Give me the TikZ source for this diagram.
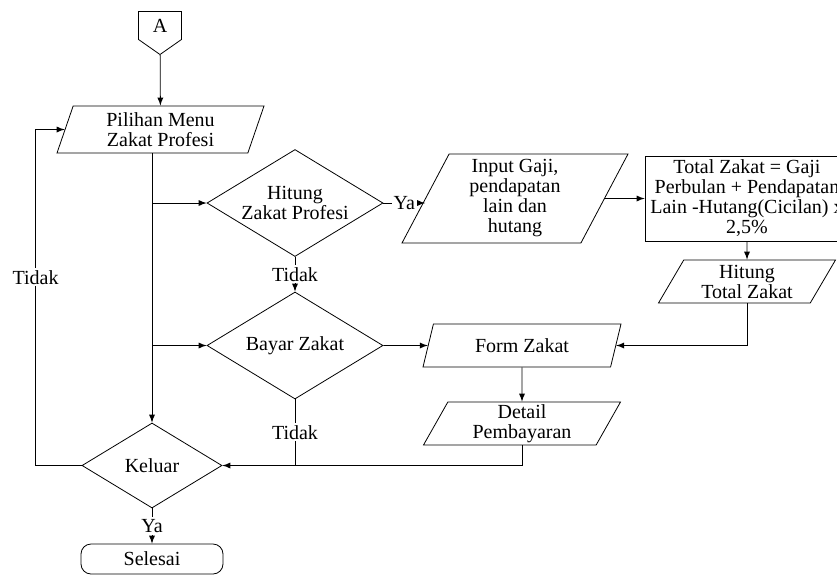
\documentclass[tikz,border=0pt]{standalone}
\usepackage{fontspec}
\setmainfont{Liberation Serif}
\usetikzlibrary{shapes.geometric,shapes.symbols,arrows}
\tikzset{%
  font=\fontsize{10}{10}\selectfont,>=latex
}

\begin{document}
\begin{tikzpicture}[x=0.5pt,y=-0.5pt,thin,
	io/.style={draw,trapezium,trapezium left angle=60,trapezium right angle=120,%
		trapezium stretches body,inner sep=1pt,align=center},%
	dec/.style={draw,diamond,aspect=1.65,inner sep=0pt,align=center},%
	e/.style={inner sep=1pt,fill=white}]
	\useasboundingbox (0,0) rectangle (837,575);
	\clip (0,0) rectangle (837,575);
	\node[draw,signal,signal to=south,signal pointer angle=110,inner sep=0pt,%
		minimum width=21.5pt,minimum height=16.5pt] (conn-a) at (160,25.5) {A};
	\node[io,trapezium left angle=67,trapezium right angle=113,%
		minimum width=103.5pt,minimum height=23.5pt] (pilihan-menu) at (160.5,129.5) {Pilihan Menu\\Zakat Profesi};
	\node[dec,minimum width=88pt,minimum height=53.5pt] (hitung-zakat) at (295,203) {Hitung\\Zakat Profesi};
	\node[io,minimum width=113pt,minimum height=44.5pt] (input-gaji) at (515,198.5) {Input Gaji,\\pendapatan\\lain dan\\hutang};
	\node[draw,inner sep=1pt,align=center,minimum width=102pt,minimum height=42.5pt] (total-zakat) at (747,198.5) {Total Zakat = Gaji\\Perbulan + Pendapatan\\Lain -Hutang(Cicilan) x\\2,5\%};
	\node[io,trapezium left angle=56,trapezium right angle=124,%
		minimum width=88.5pt,minimum height=21.5pt] (hitung-total) at (747,281.5) {Hitung\\Total Zakat};
	\node[dec,minimum width=88pt,minimum height=53.5pt] (bayar-zakat) at (295,345.5) {Bayar Zakat};
	\node[io,minimum width=99pt,minimum height=21.5pt] (form-zakat) at (522,345.5) {Form Zakat};
	\node[io,minimum width=98.5pt,minimum height=21.5pt] (detail-bayar) at (522,423.5) {Detail\\Pembayaran};
	\node[dec,minimum width=70pt,minimum height=42.5pt] (keluar) at (152,465.5) {Keluar};
	\node[draw,rounded corners=5pt,inner sep=0pt,minimum width=71pt,minimum height=15pt] (selesai) at (152,559) {Selesai};
	% connectors
	\draw[->] (conn-a) -- (pilihan-menu);
	\draw[->] (keluar.north |- pilihan-menu.south) -- (keluar);
	\draw[->] (keluar.north |- hitung-zakat.west) -- (hitung-zakat);
	\draw[->] (keluar.north |- bayar-zakat.west) -- (bayar-zakat);
	\draw[->] (hitung-zakat) -- node[e] {Ya} (input-gaji.west |- hitung-zakat.east);
	\draw[->] (input-gaji) -- (total-zakat);
	\draw[->] (total-zakat) -- (hitung-total);
	\draw[->] (hitung-total) |- (form-zakat);
	\draw[->] (hitung-zakat) -- node[e] {Tidak} (bayar-zakat);
	\draw[->] (bayar-zakat) -- (form-zakat);
	\draw[->] (form-zakat) -- (detail-bayar);
	\draw[->] (detail-bayar) |- (keluar);
	\draw (bayar-zakat) -- node[e] {Tidak} (bayar-zakat |- keluar);
	\draw[->] (keluar) -- node[e] {Ya} (selesai);
	\draw[->] (keluar.west) -- ++(-46,0) |- node[e,pos=0.28] {Tidak} (pilihan-menu.west);
\end{tikzpicture}
\end{document}
